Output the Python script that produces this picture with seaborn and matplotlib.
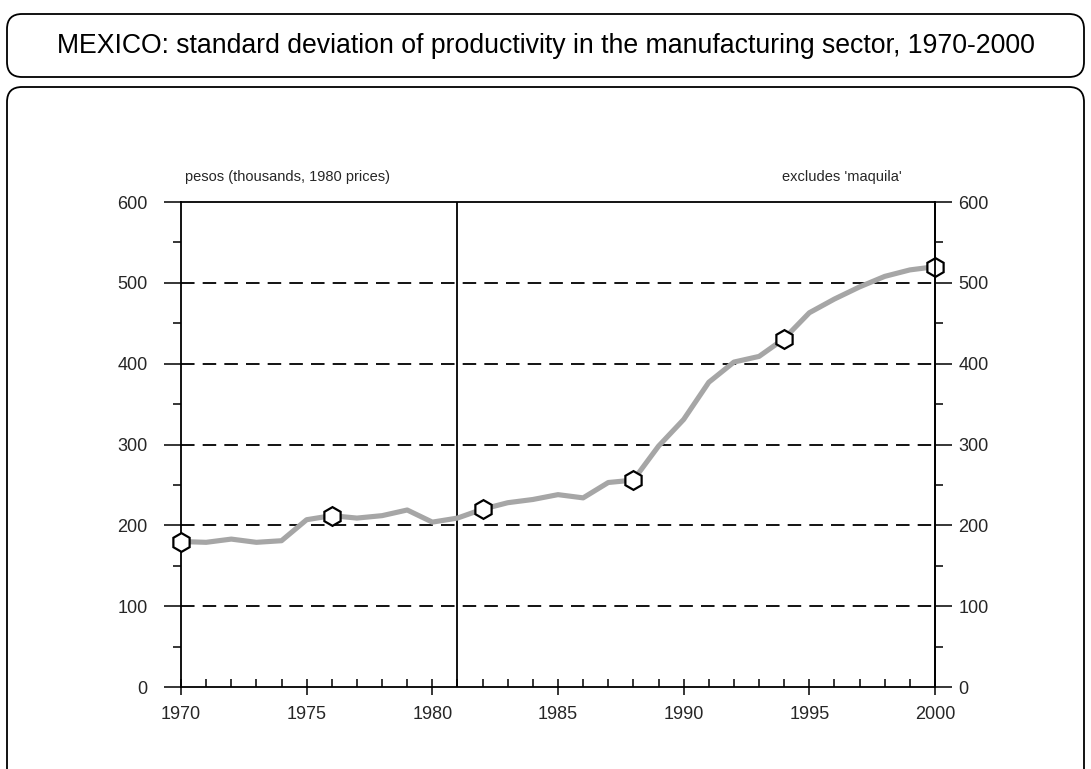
import matplotlib
matplotlib.use("Agg")
import matplotlib.pyplot as plt
from matplotlib.patches import FancyBboxPatch
from matplotlib.ticker import MultipleLocator
import seaborn as sns
import pandas as pd

years = list(range(1970, 2001))
std_dev = [180, 179, 183, 179, 181, 207, 212, 209, 212, 219, 204, 209, 220,
           228, 232, 238, 234, 253, 256, 298, 331, 377, 402, 409, 431, 463,
           480, 495, 508, 516, 520]
marker_years = [1970, 1976, 1982, 1988, 1994, 2000]
divider_year = 1981

title = "MEXICO: standard deviation of productivity in the manufacturing sector, 1970-2000"
left_note = "pesos (thousands, 1980 prices)"
right_note = "excludes 'maquila'"

df = pd.DataFrame({"year": years, "value": std_dev})
mk = df[df["year"].isin(marker_years)]

sns.set_theme(style="white")
plt.rcParams["font.family"] = ["Liberation Sans", "DejaVu Sans"]

fig = plt.figure(figsize=(10.91, 7.69), dpi=100)
ax = fig.add_axes([0.1659, 0.1066, 0.6911, 0.6307])

# rounded boxes
fig.patches.append(FancyBboxPatch((0.07, 6.92), 10.77, 0.63,
                                  boxstyle="round,pad=0,rounding_size=0.15",
                                  transform=fig.dpi_scale_trans, fill=False,
                                  edgecolor="black", linewidth=1.3))
fig.patches.append(FancyBboxPatch((0.07, -0.4), 10.77, 7.22,
                                  boxstyle="round,pad=0,rounding_size=0.15",
                                  transform=fig.dpi_scale_trans, fill=False,
                                  edgecolor="black", linewidth=1.3))
fig.text(0.5, 0.940, title, ha="center", va="center", fontsize=19.2, color="black")

# gridlines
for v in [100, 200, 300, 400, 500]:
    ax.axhline(v, color="black", linewidth=1.3, dashes=(7.5, 4.5), zorder=1)
ax.axvline(divider_year, color="black", linewidth=1.3, zorder=1)

sns.lineplot(data=df, x="year", y="value", ax=ax, color="#a6a6a6",
             linewidth=3.7, zorder=3)
ax.plot(mk["year"], mk["value"], linestyle="none", marker="h", markersize=13.5,
        markerfacecolor="white", markeredgecolor="black", markeredgewidth=1.6,
        zorder=4, clip_on=False)

ax.set_xlim(1970, 2000)
ax.set_ylim(0, 600)
ax.set_xlabel("")
ax.set_ylabel("")
for s in ax.spines.values():
    s.set_visible(True)
    s.set_color("black")
    s.set_linewidth(1.3)

ax.xaxis.set_major_locator(MultipleLocator(5))
ax.xaxis.set_minor_locator(MultipleLocator(1))
ax.yaxis.set_major_locator(MultipleLocator(100))
ax.yaxis.set_minor_locator(MultipleLocator(50))
ax.tick_params(axis="x", which="major", direction="inout", length=12, width=1.3,
               pad=8, labelsize=13, bottom=True, top=False)
ax.tick_params(axis="x", which="minor", direction="in", length=6, width=1.3,
               bottom=True, top=False)
ax.tick_params(axis="y", which="major", direction="out", length=12, width=1.3,
               pad=12, labelsize=13, left=True, right=False)
ax.tick_params(axis="y", which="minor", direction="out", length=6, width=1.3,
               left=True, right=False)

ax2 = ax.twinx()
ax2.set_ylim(0, 600)
ax2.yaxis.set_major_locator(MultipleLocator(100))
ax2.yaxis.set_minor_locator(MultipleLocator(50))
ax2.tick_params(axis="y", which="major", direction="out", length=12, width=1.3,
                pad=5, labelsize=13)
ax2.tick_params(axis="y", which="minor", direction="out", length=6, width=1.3)
for s in ax2.spines.values():
    s.set_visible(False)
ax2.spines["right"].set_visible(True)
ax2.spines["right"].set_linewidth(1.3)
ax2.spines["right"].set_color("black")

ax.text(0.005, 1.052, left_note, transform=ax.transAxes, ha="left", va="center",
        fontsize=10.5)
ax.text(0.956, 1.052, right_note, transform=ax.transAxes, ha="right", va="center",
        fontsize=10.5)

fig.savefig("out.png", dpi=100)
